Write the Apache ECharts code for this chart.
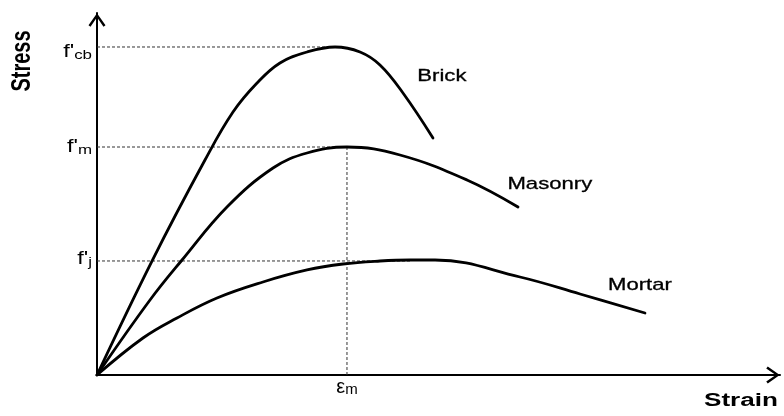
<!DOCTYPE html>
<html><head><meta charset="utf-8">
<script src="https://cdn.jsdelivr.net/npm/echarts@6/dist/echarts.min.js"></script>
<style>html,body{margin:0;padding:0;background:#fff}#c{width:784px;height:416px}</style>
</head><body><div id="c"></div>
<script>
// ---- data (strain / stress in relative units) ----
const brickStrain  = [0, 0.805, 1.581, 1.991, 2.343, 2.679, 3.075, 3.485, 3.851, 4.143, 4.480, 4.919];
const brickStress  = [0, 3.149, 5.939, 7.265, 8.066, 8.619, 8.923, 9.061, 8.923, 8.564, 7.790, 6.547];
const masonryStrain = [0, 0.776, 1.245, 1.903, 2.577, 3.075, 3.660, 4.436, 5.417, 6.164];
const masonryStress = [0, 2.072, 3.177, 4.641, 5.718, 6.133, 6.298, 6.077, 5.387, 4.641];
const mortarStrain = [0, 0.673, 1.171, 1.757, 2.430, 3.075, 3.602, 4.143, 4.583, 4.949, 6.193, 7.072, 8.023];
const mortarStress = [0, 1.022, 1.575, 2.127, 2.569, 2.901, 3.066, 3.149, 3.177, 3.177, 2.707, 2.238, 1.713];

const curveNames = ['Brick', 'Masonry', 'Mortar'];
// peak (guide) levels: f'cb, f'm, f'j and the strain at masonry peak
const stressTickValues = [9.061, 6.298, 3.15];
const stressTickMain = ["f'", "f'", "f'"];
const stressTickSub = ['cb', 'm', 'j'];
const stressGuideEnds = [3.485, 3.660, 4.583];
const strainTickValues = [3.660];
const strainTickMain = ['\u03b5'];
const strainTickSub = ['m'];
const xAxisName = 'Strain';
const yAxisName = 'Stress';

// ---- layout (not data) ----
const curveLabelAnchors = [[5.05, 8.26], [6.63, 5.28], [7.95, 2.49]];
const stressLabelDy = [4.7, -0.3, -2.3];
const FONT = '"Liberation Sans", Arial, sans-serif';

const zip = (a, b) => a.map((v, i) => [v, b[i]]);
const curves = [zip(brickStrain, brickStress), zip(masonryStrain, masonryStress), zip(mortarStrain, mortarStress)];

const guideStyle = { color: '#333', width: 1, type: [3, 2] };
const series = [];
stressTickValues.forEach((v, i) => {
  series.push({ type: 'line', data: [[0, v], [stressGuideEnds[i], v]], showSymbol: false, silent: true,
    lineStyle: guideStyle, z: 1 });
});
strainTickValues.forEach((v) => {
  series.push({ type: 'line', data: [[v, 0], [v, stressTickValues[1]]], showSymbol: false, silent: true,
    lineStyle: guideStyle, z: 1 });
});
curves.forEach((d, i) => {
  series.push({ name: curveNames[i], type: 'line', data: d, smooth: 0.4, showSymbol: false, silent: true,
    lineStyle: { color: '#000', width: 2.8, cap: 'round', join: 'round' }, z: 3 });
});

const arrowPath = 'path://M8.5,0 L17,12 L15,13.5 L8.5,4 L2,13.5 L0,12 Z';
const axisCommon = {
  type: 'value', min: 0, max: 10,
  splitLine: { show: false }, axisTick: { show: false }, axisLabel: { show: false },
  axisLine: { show: true, onZero: false, lineStyle: { color: '#000', width: 2 },
    symbol: ['none', arrowPath], symbolSize: [17, 13.5], symbolOffset: [0, -7] }
};

const chart = echarts.init(document.getElementById('c'), null, { renderer: 'canvas' });
chart.setOption({
  animation: false,
  backgroundColor: '#fff',
  grid: { left: 97, right: 4, top: 13, bottom: 41 },
  xAxis: Object.assign({}, axisCommon),
  yAxis: Object.assign({}, axisCommon),
  series: series
});

const toPx = (x, y) => chart.convertToPixel({ gridIndex: 0 }, [x, y]);
const graphics = [];
// axis names
graphics.push({ type: 'text', x: 22, y: 61, rotation: Math.PI / 2, scaleY: 1.4,
  style: { text: yAxisName, font: 'bold 20px ' + FONT, fill: '#000', align: 'center', verticalAlign: 'middle' } });
graphics.push({ type: 'text', x: 741, y: 401, scaleX: 1.45,
  style: { text: xAxisName, font: 'bold 18px ' + FONT, fill: '#000', align: 'center', verticalAlign: 'middle' } });
// curve labels
curveNames.forEach((n, i) => {
  const p = toPx(curveLabelAnchors[i][0], curveLabelAnchors[i][1]);
  graphics.push({ type: 'text', x: p[0], y: p[1], scaleX: 1.3,
    style: { text: n, font: '17px ' + FONT, fill: '#000', align: 'center', verticalAlign: 'middle',
      stroke: '#000', lineWidth: 0.3 } });
});
// stress tick labels
stressTickValues.forEach((v, i) => {
  const p = toPx(0, v);
  graphics.push({ type: 'text', x: p[0] - 5, y: p[1] + stressLabelDy[i], scaleX: 1.3,
    style: { text: '{a|' + stressTickMain[i] + '}{b|' + stressTickSub[i] + '}', align: 'right', verticalAlign: 'middle', fill: '#000',
      rich: { a: { fontSize: 18, fontFamily: FONT, fill: '#000' }, b: { fontSize: 13, fontFamily: FONT, fill: '#000', padding: [8, 0, 0, 0] } } } });
});
// strain tick labels
strainTickValues.forEach((v, i) => {
  const p = toPx(v, 0);
  graphics.push({ type: 'text', x: p[0], y: p[1] + 12,
    style: { text: '{a|' + strainTickMain[i] + '}{b|' + strainTickSub[i] + '}', align: 'center', verticalAlign: 'middle', fill: '#000',
      rich: { a: { fontSize: 20, fontFamily: FONT, fill: '#000' }, b: { fontSize: 15, fontFamily: FONT, fill: '#000', padding: [5, 0, 0, 0] } } } });
});
chart.setOption({ graphic: graphics });
</script>
</body></html>
